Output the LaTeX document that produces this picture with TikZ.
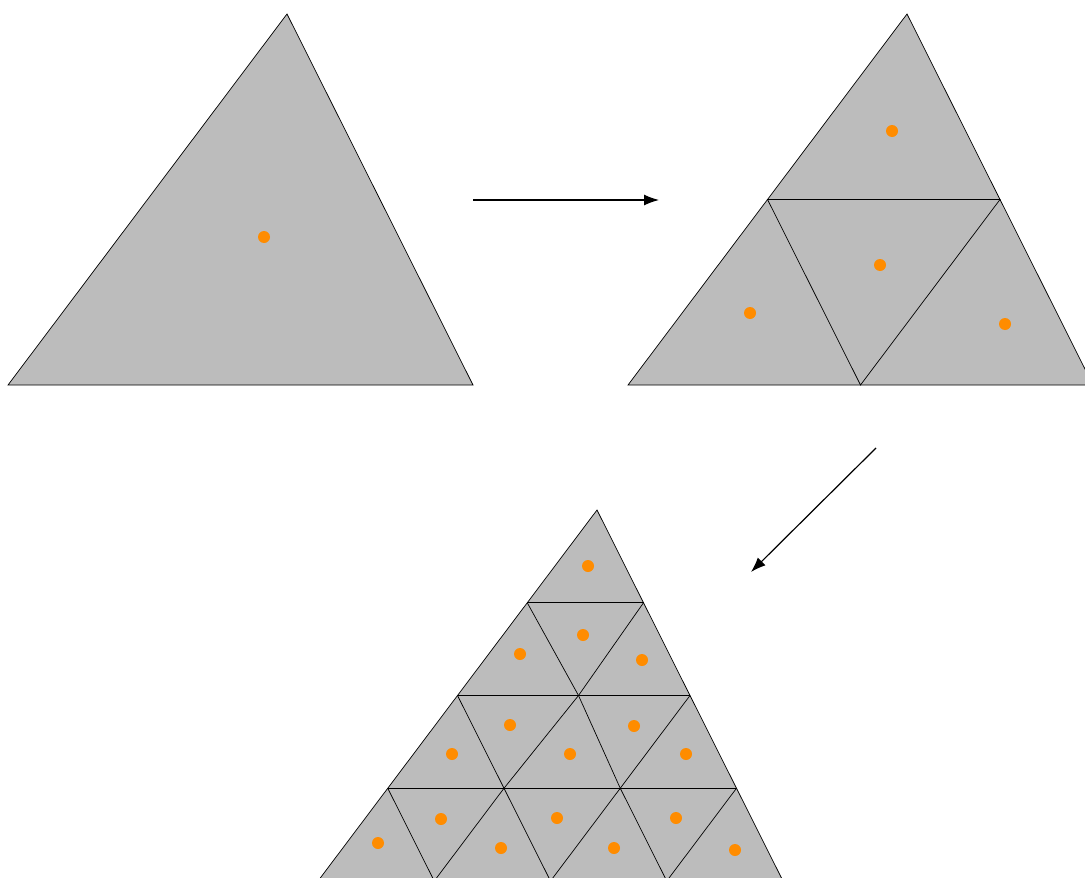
\documentclass[tikz,border=0pt]{standalone}
\usetikzlibrary{arrows.meta}
\definecolor{trigray}{HTML}{BCBCBC}
\definecolor{dotorange}{HTML}{FF8C00}
\tikzset{
  tri/.style={fill=trigray,draw=black,line width=0.7pt,line join=miter},
  edge/.style={draw=black,line width=0.7pt},
  pt/.style={fill=dotorange},
  flow/.style={draw=black,line width=1.2pt,-{Latex[length=15pt,width=11pt]}}
}
\begin{document}
\begin{tikzpicture}[x=1pt,y=-1pt]
\useasboundingbox (0,0) rectangle (1085,878);
\clip (0,0) rectangle (1085,878);
% triangle 1
\path[tri] (8,385) -- (473,385) -- (287,14) -- cycle;
\fill[pt] (264,237) circle (6);
% triangle 2
\path[tri] (628,385) -- (1093,385) -- (907,14) -- cycle;
\draw[edge] (767.5,199.5) -- (1000,199.5) -- (860.5,385) -- cycle;
\foreach \p in {(892,131),(880,265),(750,313),(1005,324)} \fill[pt] \p circle (6);
% triangle 3
\path[tri] (318,881) -- (783,881) -- (597,510) -- cycle;
\draw[edge] (527.25,602.75) -- (643.5,602.75);
\draw[edge] (457.5,695.5) -- (690,695.5);
\draw[edge] (387.75,788.25) -- (736.5,788.25);
\draw[edge] (457.5,695.5) -- (550.5,881);
\draw[edge] (387.75,788.25) -- (434.25,881);
\draw[edge] (527.25,602.75) -- (578.5,695.5) -- (620.25,788.25) -- (666.75,881);
\draw[edge] (643.5,602.75) -- (578.5,695.5) -- (504,788.25) -- (434.25,881);
\draw[edge] (690,695.5) -- (550.5,881);
\draw[edge] (736.5,788.25) -- (666.75,881);
\foreach \p in {(588,566),(520,654),(583,635),(642,660),(452,754),(510,725),(570,754),(634,726),(686,754),(378,843),(441,819),(501,848),(557,818),(614,848),(676,818),(735,850)} \fill[pt] \p circle (6);
% arrows
\coordinate (a1s) at (473,200);
\coordinate (a1e) at (659,200);
\coordinate (a2s) at (876,448);
\coordinate (a2e) at (751,572);
\draw[flow] (a1s) -- (a1e);
\draw[flow] (a2s) -- (a2e);
\end{tikzpicture}
\end{document}
